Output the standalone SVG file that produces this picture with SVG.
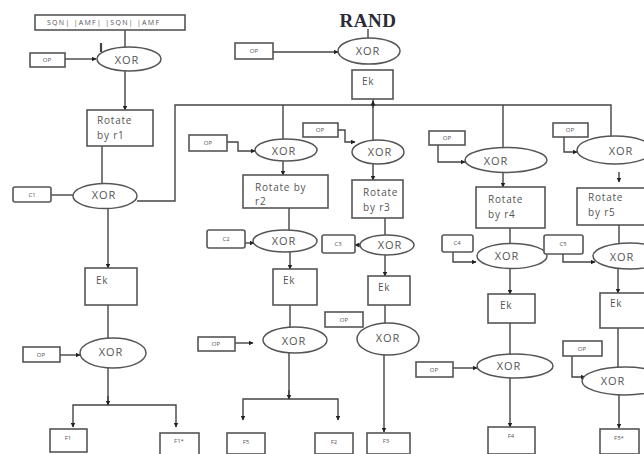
<svg xmlns="http://www.w3.org/2000/svg" width="644" height="454" viewBox="0 0 644 454">
<style>
.b{fill:#fff;stroke:#555;stroke-width:1.6}
.e{fill:#fff;stroke:#555;stroke-width:1.5}
.t{font-family:"Open Sans","Liberation Sans",sans-serif;fill:#555}
.x{font-size:11px;letter-spacing:1px;text-anchor:middle}
.r{font-size:10px;letter-spacing:0.8px}
.s{font-size:6px;text-anchor:middle}
.c{fill:none;stroke:#444;stroke-width:1.4}
</style>
<defs>
<marker id="a" viewBox="0 0 10 10" refX="9" refY="5" markerWidth="5" markerHeight="5" orient="auto" markerUnits="userSpaceOnUse"><path d="M0,0L10,5L0,10z" fill="#222"/></marker>
</defs>
<rect width="644" height="454" fill="#fff"/>
<g id="connectors" class="c">
<path d="M125,30V47"/>
<path d="M65,59H96" marker-end="url(#a)"/>
<path d="M101,43V52" stroke-width="2.2"/>
<path d="M125,71V110" marker-end="url(#a)"/>
<path d="M102,146V183"/>
<path d="M51,195H73"/>
<path d="M137,201H175V105H611V136"/>
<path d="M108,208V268" marker-end="url(#a)"/>
<path d="M108,305V338"/>
<path d="M60,355H80" marker-end="url(#a)"/>
<path d="M108,368V405"/>
<path d="M108,405H73V427" marker-end="url(#a)"/>
<path d="M108,405H176V427" marker-end="url(#a)"/>
<path d="M108,396V405" marker-end="url(#a)"/>
<path d="M368,29V38"/>
<path d="M273,52H338" marker-end="url(#a)"/>
<path d="M373,99V140"/>
<path d="M373,108V101" marker-end="url(#a)"/>
<path d="M283,105V139"/>
<path d="M227,142H238V151H255" marker-end="url(#a)"/>
<path d="M283,161V175" marker-end="url(#a)"/>
<path d="M289,208V230"/>
<path d="M245,243H254" marker-end="url(#a)"/>
<path d="M290,252V269" marker-end="url(#a)"/>
<path d="M290,305V327"/>
<path d="M235,343H253" marker-end="url(#a)"/>
<path d="M289,353V399"/>
<path d="M289,390V399" marker-end="url(#a)"/>
<path d="M289,399H243V420" marker-end="url(#a)"/>
<path d="M289,399H338V420" marker-end="url(#a)"/>
<path d="M338,130H345V142H355" marker-end="url(#a)"/>
<path d="M373,164V180" marker-end="url(#a)"/>
<path d="M385,218V235"/>
<path d="M361,245H355" marker-end="url(#a)"/>
<path d="M385,255V276" marker-end="url(#a)"/>
<path d="M385,305V323"/>
<path d="M384,355V432" marker-end="url(#a)"/>
<path d="M503,105V147"/>
<path d="M438,145V162H465" marker-end="url(#a)"/>
<path d="M503,173V187" marker-end="url(#a)"/>
<path d="M510,228V243"/>
<path d="M453,252V262H476" marker-end="url(#a)"/>
<path d="M510,268V294" marker-end="url(#a)"/>
<path d="M510,323V354"/>
<path d="M453,368H477" marker-end="url(#a)"/>
<path d="M510,378V427" marker-end="url(#a)"/>
<path d="M564,137V152H577" marker-end="url(#a)"/>
<path d="M619,172V182" marker-end="url(#a)"/>
<path d="M619,225V243"/>
<path d="M563,254V262H595" marker-end="url(#a)"/>
<path d="M618,269V293" marker-end="url(#a)"/>
<path d="M618,328V367"/>
<path d="M572,356V377H585" marker-end="url(#a)"/>
<path d="M619,395V428" marker-end="url(#a)"/>
</g>
<g id="sqn"><rect class="b" x="35" y="15" width="150" height="15"/><text class="t" x="47" y="25" font-size="7" textLength="112" lengthAdjust="spacing">SQN| |AMF| |SQN| |AMF</text></g>
<g id="xor1"><ellipse class="e" cx="129" cy="59" rx="32" ry="12"/><text class="t x" x="127" y="64">XOR</text></g>
<g id="op1"><rect class="b" x="30" y="53" width="35" height="14"/><text class="t s" x="47" y="62">OP</text></g>
<g id="rot1"><rect class="b" x="87" y="110" width="66" height="36"/><text class="t r" x="97" y="124">Rotate</text><text class="t r" x="97" y="139">by r1</text></g>
<g id="xor2"><ellipse class="e" cx="105" cy="196" rx="32" ry="12.5"/><text class="t x" x="104" y="199">XOR</text></g>
<g id="c1"><rect class="b" x="13" y="187" width="38" height="15" rx="2"/><text class="t s" x="32" y="197">C1</text></g>
<g id="ek1"><rect class="b" x="85" y="268" width="52" height="37"/><text class="t r" x="96" y="284">Ek</text></g>
<g id="xor3"><ellipse class="e" cx="113" cy="353" rx="33" ry="15"/><text class="t x" x="111" y="356">XOR</text></g>
<g id="op2"><rect class="b" x="23" y="347" width="37" height="15"/><text class="t s" x="41" y="357">OP</text></g>
<g id="f1"><rect class="b" x="50" y="429" width="37" height="23"/><text class="t s" x="68" y="440">F1</text></g>
<g id="f1s"><rect class="b" x="160" y="433" width="39" height="22"/><text class="t s" x="179" y="443">F1*</text></g>
<g id="rand"><text x="368" y="27" font-family="Liberation Serif,serif" font-size="19" font-weight="bold" fill="#2b2b38" text-anchor="middle" letter-spacing="0.5">RAND</text></g>
<g id="xor0"><ellipse class="e" cx="369" cy="51" rx="31" ry="13"/><text class="t x" x="368" y="55">XOR</text></g>
<g id="op0"><rect class="b" x="235" y="43" width="38" height="16"/><text class="t s" x="254" y="53">OP</text></g>
<g id="ek0"><rect class="b" x="352" y="70" width="41" height="29"/><text class="t r" x="362" y="85">Ek</text></g>
<g id="xor2a"><ellipse class="e" cx="286" cy="150" rx="31" ry="11"/><text class="t x" x="284" y="155">XOR</text></g>
<g id="op3"><rect class="b" x="189" y="135" width="38" height="16"/><text class="t s" x="208" y="145">OP</text></g>
<g id="rot2"><rect class="b" x="243" y="175" width="85" height="33"/><text class="t r" x="255" y="191">Rotate by</text><text class="t r" x="255" y="205">r2</text></g>
<g id="xor2b"><ellipse class="e" cx="285" cy="241" rx="32" ry="11"/><text class="t x" x="284" y="245">XOR</text></g>
<g id="c2"><rect class="b" x="207" y="230" width="38" height="18" rx="2"/><text class="t s" x="226" y="241">C2</text></g>
<g id="ek2"><rect class="b" x="273" y="269" width="44" height="36"/><text class="t r" x="283" y="284">Ek</text></g>
<g id="xor2c"><ellipse class="e" cx="295" cy="340" rx="32" ry="13"/><text class="t x" x="294" y="345">XOR</text></g>
<g id="op4"><rect class="b" x="198" y="337" width="37" height="14"/><text class="t s" x="216" y="346">OP</text></g>
<g id="f5"><rect class="b" x="227" y="433" width="38" height="21"/><text class="t s" x="246" y="444">F5</text></g>
<g id="f2"><rect class="b" x="315" y="433" width="38" height="21"/><text class="t s" x="334" y="444">F2</text></g>
<g id="xor3a"><ellipse class="e" cx="378" cy="152" rx="26" ry="12"/><text class="t x" x="380" y="156">XOR</text></g>
<g id="op5"><rect class="b" x="303" y="123" width="35" height="14"/><text class="t s" x="320" y="132">OP</text></g>
<g id="rot3"><rect class="b" x="352" y="180" width="51" height="38"/><text class="t r" x="363" y="196">Rotate</text><text class="t r" x="363" y="211">by r3</text></g>
<g id="xor3b"><ellipse class="e" cx="387" cy="245" rx="27" ry="10"/><text class="t x" x="390" y="249">XOR</text></g>
<g id="c3"><rect class="b" x="322" y="235" width="33" height="18" rx="2"/><text class="t s" x="338" y="246">C3</text></g>
<g id="ek3"><rect class="b" x="368" y="276" width="42" height="29"/><text class="t r" x="378" y="291">Ek</text></g>
<g id="xor3c"><ellipse class="e" cx="388" cy="339" rx="31" ry="16"/><text class="t x" x="388" y="342">XOR</text></g>
<g id="op6"><rect class="b" x="325" y="312" width="38" height="15"/><text class="t s" x="344" y="322">OP</text></g>
<g id="f3"><rect class="b" x="367" y="433" width="43" height="21"/><text class="t s" x="386" y="443">F3</text></g>
<g id="xor4a"><ellipse class="e" cx="506" cy="160" rx="41" ry="12.5"/><text class="t x" x="496" y="165">XOR</text></g>
<g id="op7"><rect class="b" x="429" y="131" width="36" height="14"/><text class="t s" x="447" y="140">OP</text></g>
<g id="rot4"><rect class="b" x="476" y="187" width="69" height="41"/><text class="t r" x="488" y="203">Rotate</text><text class="t r" x="488" y="218">by r4</text></g>
<g id="xor4b"><ellipse class="e" cx="512" cy="256" rx="35" ry="12.5"/><text class="t x" x="507" y="260">XOR</text></g>
<g id="c4"><rect class="b" x="442" y="235" width="31" height="17" rx="2"/><text class="t s" x="457" y="245">C4</text></g>
<g id="ek4"><rect class="b" x="488" y="294" width="47" height="29"/><text class="t r" x="500" y="309">Ek</text></g>
<g id="xor4c"><ellipse class="e" cx="515" cy="366" rx="38" ry="12"/><text class="t x" x="509" y="370">XOR</text></g>
<g id="op8"><rect class="b" x="416" y="362" width="37" height="15"/><text class="t s" x="434" y="372">OP</text></g>
<g id="f4"><rect class="b" x="488" y="427" width="47" height="27"/><text class="t s" x="511" y="438">F4</text></g>
<g id="xor5a"><ellipse class="e" cx="615" cy="150" rx="38" ry="14"/><text class="t x" x="621" y="155">XOR</text></g>
<g id="op9"><rect class="b" x="553" y="123" width="35" height="14"/><text class="t s" x="570" y="132">OP</text></g>
<g id="rot5"><rect class="b" x="577" y="188" width="75" height="37"/><text class="t r" x="588" y="201">Rotate</text><text class="t r" x="588" y="216">by r5</text></g>
<g id="xor5b"><ellipse class="e" cx="630" cy="256" rx="37" ry="13"/><text class="t x" x="622" y="261">XOR</text></g>
<g id="c5"><rect class="b" x="544" y="235" width="39" height="19" rx="2"/><text class="t s" x="563" y="246">C5</text></g>
<g id="ek5"><rect class="b" x="600" y="293" width="50" height="35"/><text class="t r" x="610" y="307">Ek</text></g>
<g id="xor5c"><ellipse class="e" cx="625" cy="381" rx="43" ry="14"/><text class="t x" x="613" y="385">XOR</text></g>
<g id="op10"><rect class="b" x="563" y="341" width="39" height="15"/><text class="t s" x="582" y="351">OP</text></g>
<g id="f5s"><rect class="b" x="600" y="429" width="39" height="25"/><text class="t s" x="619" y="440">F5*</text></g>
</svg>
